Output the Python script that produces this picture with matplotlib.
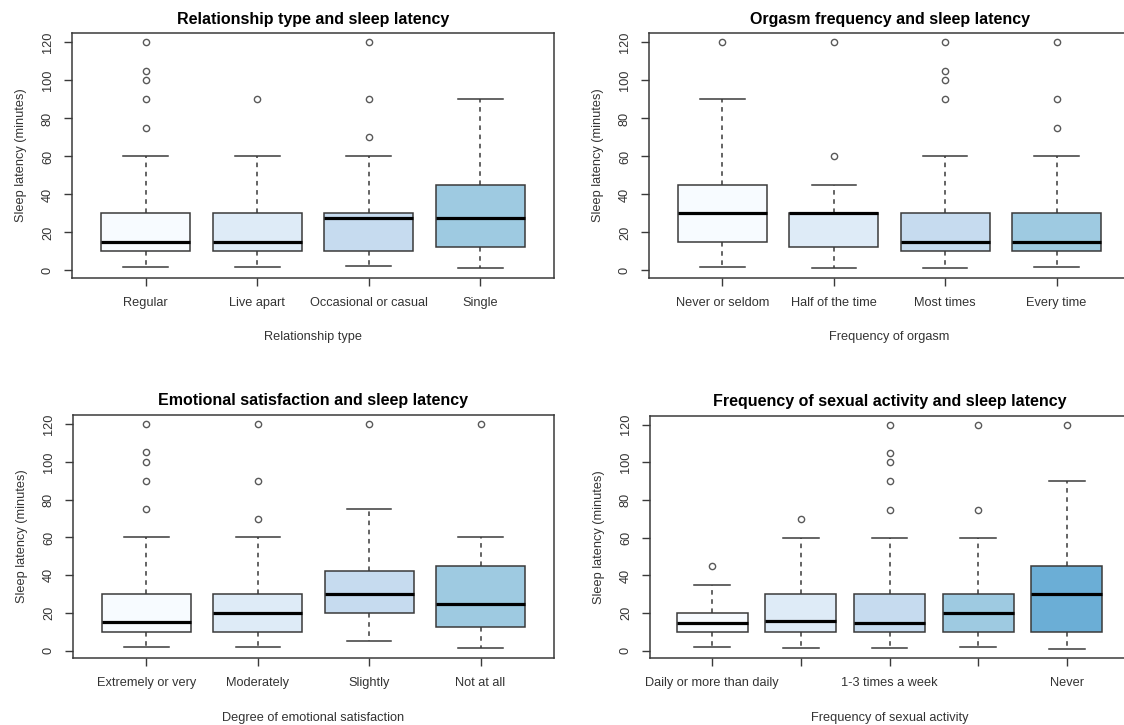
import matplotlib
matplotlib.use("Agg")
import matplotlib.pyplot as plt

plt.rcParams['font.family'] = ['Liberation Sans', 'DejaVu Sans']

# ---- Data ----
titles = ["Relationship type and sleep latency",
          "Orgasm frequency and sleep latency",
          "Emotional satisfaction and sleep latency",
          "Frequency of sexual activity and sleep latency"]
xlabels = ["Relationship type", "Frequency of orgasm",
           "Degree of emotional satisfaction", "Frequency of sexual activity"]
ylabel = "Sleep latency (minutes)"

rel_labels = ["Regular", "Live apart", "Occasional or casual", "Single"]
rel_low = [2, 2, 2.5, 1.5]
rel_q1 = [10, 10, 10, 12.5]
rel_med = [15, 15, 27.5, 27.5]
rel_q3 = [30, 30, 30, 45]
rel_high = [60, 60, 60, 90]
rel_out = [[75, 90, 100, 105, 120], [90], [70, 90, 120], []]

org_labels = ["Never or seldom", "Half of the time", "Most times", "Every time"]
org_low = [2, 1.5, 1.5, 2]
org_q1 = [15, 12.5, 10, 10]
org_med = [30, 30, 15, 15]
org_q3 = [45, 30, 30, 30]
org_high = [90, 45, 60, 60]
org_out = [[120], [60, 120], [90, 100, 105, 120], [75, 90, 120]]

emo_labels = ["Extremely or very", "Moderately", "Slightly", "Not at all"]
emo_low = [2, 2, 5, 1.5]
emo_q1 = [10, 10, 20, 12.5]
emo_med = [15, 20, 30, 25]
emo_q3 = [30, 30, 42.5, 45]
emo_high = [60, 60, 75, 60]
emo_out = [[75, 90, 100, 105, 120], [70, 90, 120], [120], [120]]

sex_labels = ["Daily or more than daily", "", "1-3 times a week", "", "Never"]
sex_low = [2, 1.5, 1.5, 2, 1]
sex_q1 = [10, 10, 10, 10, 10]
sex_med = [15, 16, 15, 20, 30]
sex_q3 = [20, 30, 30, 30, 45]
sex_high = [35, 60, 60, 60, 90]
sex_out = [[45], [70], [75, 90, 100, 105, 120], [75, 120], [120]]

yticks = [0, 20, 40, 60, 80, 100, 120]
blues = ["#F7FBFF", "#DEEBF7", "#C6DBEF", "#9ECAE1", "#6BAED6"]

panels = [
    (rel_labels, rel_low, rel_q1, rel_med, rel_q3, rel_high, rel_out),
    (org_labels, org_low, org_q1, org_med, org_q3, org_high, org_out),
    (emo_labels, emo_low, emo_q1, emo_med, emo_q3, emo_high, emo_out),
    (sex_labels, sex_low, sex_q1, sex_med, sex_q3, sex_high, sex_out),
]

W, H = 1124, 725
fig = plt.figure(figsize=(W / 100, H / 100), dpi=100)

# axes boxes in pixel coords: left, top, right, bottom
boxes_px = [(72, 33.3, 554, 277.7), (649, 33.3, 1130, 277.7),
            (73, 415, 554, 658), (650, 415.7, 1129, 658)]

line_col = "#3a3a3a"
text_col = "#333333"

for i, (labs, lo, q1, med, q3, hi, out) in enumerate(panels):
    l, t, r, b = boxes_px[i]
    ax = fig.add_axes([l / W, 1 - b / H, (r - l) / W, (b - t) / H])
    n = len(labs)
    stats = []
    for k in range(n):
        stats.append(dict(whislo=lo[k], q1=q1[k], med=med[k], q3=q3[k],
                          whishi=hi[k], fliers=out[k]))
    pos = list(range(1, n + 1))
    bp = ax.bxp(stats, positions=pos, widths=0.8, patch_artist=True,
                showfliers=True,
                boxprops=dict(edgecolor=line_col, linewidth=1.1),
                medianprops=dict(color="black", linewidth=2.3, solid_capstyle="butt"),
                whiskerprops=dict(color=line_col, linewidth=1.1, linestyle=(0, (3, 3))),
                capprops=dict(color=line_col, linewidth=1.1),
                capwidths=0.4,
                flierprops=dict(marker="o", markerfacecolor="none",
                                markeredgecolor="#595959", markersize=4.5,
                                markeredgewidth=1.0))
    for k, patch in enumerate(bp["boxes"]):
        patch.set_facecolor(blues[k])
    ext = 0.04 * n
    ax.set_xlim(0.5 - ext, n + 0.5 + ext)
    ax.set_ylim(-3.8, 124.8)
    ax.set_xticks(pos)
    ax.set_xticklabels(labs, fontsize=9.2, color=text_col)
    ax.set_yticks(yticks)
    ax.set_yticklabels([str(v) for v in yticks], fontsize=9.2, color=text_col,
                       rotation=90, va="center")
    ax.tick_params(axis="both", direction="out", length=6, width=1.0,
                   color=line_col)
    ax.tick_params(axis="x", pad=8)
    ax.tick_params(axis="y", pad=7)
    for s in ax.spines.values():
        s.set_color(line_col)
        s.set_linewidth(1.1)
    ax.set_title(titles[i], fontsize=11.5, fontweight="bold", pad=7)
    ax.set_xlabel(xlabels[i], fontsize=9.2, color=text_col, labelpad=16)
    ax.set_ylabel(ylabel, fontsize=9.2, color=text_col, labelpad=11)

fig.savefig("out.png", dpi=100)
